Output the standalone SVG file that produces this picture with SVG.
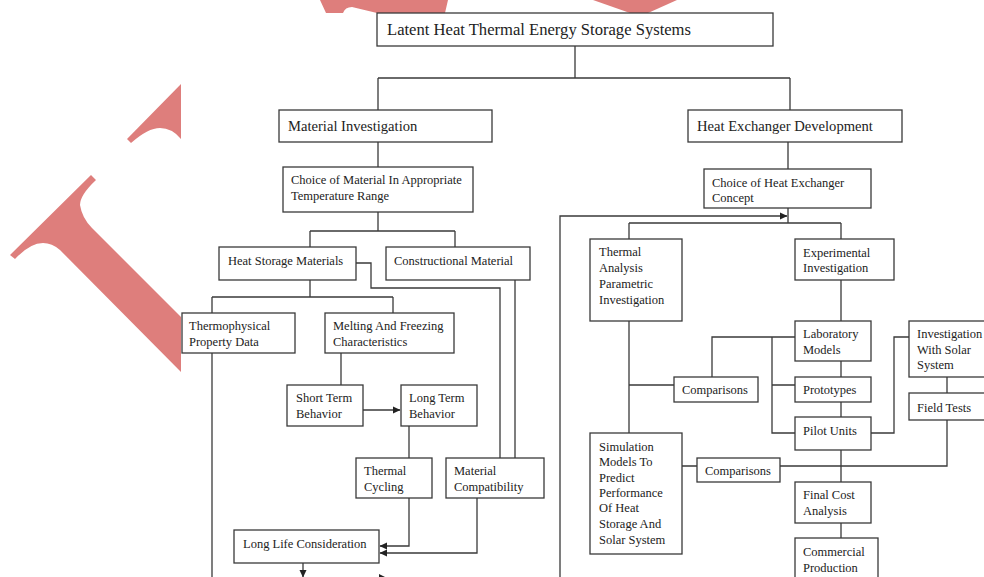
<svg xmlns="http://www.w3.org/2000/svg" width="984" height="577" viewBox="0 0 984 577">
<style>
.box{fill:#fff;stroke:#3a3a3a;stroke-width:1.3}
.t{font-family:"Liberation Serif","Times New Roman",serif;font-size:12.5px;fill:#222}
.t2{font-family:"Liberation Serif","Times New Roman",serif;font-size:14.6px;fill:#222}
.t3{font-family:"Liberation Serif","Times New Roman",serif;font-size:16.6px;fill:#222}
.c{fill:none;stroke:#3a3a3a;stroke-width:1.3}
.wm{fill:#de7e7c}
</style>
<defs>
<marker id="ah" markerWidth="8" markerHeight="8" refX="7" refY="4" orient="auto" markerUnits="userSpaceOnUse">
<path d="M0,0.5 L7.5,4 L0,7.5 Z" fill="#222"/>
</marker>
</defs>
<rect width="984" height="577" fill="#fff"/>
<g id="watermark">
<path class="wm" d="M320,0 L326,13 L343,13 Q345,7 352,7 L377,13 L445,13 L448,0 Z"/>
<path class="wm" d="M593,0 L677,0 L648,13 L630,13 Z"/>
<path class="wm" d="M127,139 L181,84 L181,139 Q172,128 160,128 Q148,128 131,143 Z"/>
<path class="wm" d="M10,255 L91,175 L96,180 Q80,195 80,205 Q82,218 92,228 L181,317 L181,372 L60,250 Q52,243 43,243 Q30,243 15,259 Z"/>
</g>
<g id="connectors">
<path class="c" d="M575,46 V78 M378,78 H790 M378,78 V110 M790,78 V110"/>
<path class="c" d="M378,142 V167 M378,212 V231 M310,231 H455 M310,231 V247 M455,231 V247"/>
<path class="c" d="M356,263 H371 V288 H500 V458 M515,280 V458"/>
<path class="c" d="M310,280 V297 M212,297 H393 M212,297 V313 M393,297 V313"/>
<path class="c" d="M212,353 V577"/>
<path class="c" d="M341,353 V385"/>
<path class="c" d="M363,410 H400" marker-end="url(#ah)"/>
<path class="c" d="M409,426 V458"/>
<path class="c" d="M409,498 V546 H380" marker-end="url(#ah)"/>
<path class="c" d="M477,498 V553 H380" marker-end="url(#ah)"/>
<path class="c" d="M303,563 V577" marker-end="url(#ah)"/>
<path d="M379,574 L386,577.5 L379,581 Z" fill="#222"/>
<path class="c" d="M560,577 V216 H787" marker-end="url(#ah)"/>
<path class="c" d="M788,142 V169 M788,208 V223 M629,223 H841 M629,223 V239 M841,223 V239"/>
<path class="c" d="M841,280 V321 M841,361 V377 M841,402 V417 M841,450 V482 M841,523 V538"/>
<path class="c" d="M795,337 H712 V377 M772,337 V433 H795 M772,385 H795"/>
<path class="c" d="M629,321 V433 M629,385 H674"/>
<path class="c" d="M871,433 H894 V337 H909"/>
<path class="c" d="M947,377 V393 M947,420 V466 H780 M682,466 H697"/>
</g>
<g id="n-root"><rect class="box" x="377" y="13" width="396" height="33"/><text class="t3" x="387" y="35">Latent Heat Thermal Energy Storage Systems</text></g>
<g id="n-material"><rect class="box" x="279" y="110" width="213" height="32"/><text class="t2" x="288" y="131">Material Investigation</text></g>
<g id="n-hx"><rect class="box" x="688" y="110" width="214" height="32"/><text class="t2" x="697" y="131">Heat Exchanger Development</text></g>
<g id="n-choice-mat"><rect class="box" x="283" y="167" width="190" height="45"/><text class="t" x="291" y="183.5">Choice of Material In Appropriate</text><text class="t" x="291" y="199.5">Temperature Range</text></g>
<g id="n-heat-storage"><rect class="box" x="219" y="247" width="137" height="33"/><text class="t" x="228" y="264.5">Heat Storage Materials</text></g>
<g id="n-constructional"><rect class="box" x="386" y="247" width="144" height="33"/><text class="t" x="394" y="264.5">Constructional Material</text></g>
<g id="n-thermophysical"><rect class="box" x="182" y="313" width="113" height="40"/><text class="t" x="189" y="329.5">Thermophysical</text><text class="t" x="189" y="345.5">Property Data</text></g>
<g id="n-melting"><rect class="box" x="325" y="313" width="129" height="40"/><text class="t" x="333" y="329.5">Melting And Freezing</text><text class="t" x="333" y="345.5">Characteristics</text></g>
<g id="n-short"><rect class="box" x="287" y="385" width="76" height="41"/><text class="t" x="296" y="401.5">Short Term</text><text class="t" x="296" y="417.5">Behavior</text></g>
<g id="n-long"><rect class="box" x="401" y="385" width="76" height="41"/><text class="t" x="409" y="401.5">Long Term</text><text class="t" x="409" y="417.5">Behavior</text></g>
<g id="n-cycling"><rect class="box" x="356" y="458" width="76" height="40"/><text class="t" x="364" y="474.5">Thermal</text><text class="t" x="364" y="490.5">Cycling</text></g>
<g id="n-compat"><rect class="box" x="446" y="458" width="98" height="40"/><text class="t" x="454" y="474.5">Material</text><text class="t" x="454" y="490.5">Compatibility</text></g>
<g id="n-longlife"><rect class="box" x="234" y="530" width="145" height="33"/><text class="t" x="243" y="547.5">Long Life Consideration</text></g>
<g id="n-choice-hx"><rect class="box" x="704" y="169" width="167" height="39"/><text class="t" x="712" y="186.5">Choice of Heat Exchanger</text><text class="t" x="712" y="201.5">Concept</text></g>
<g id="n-thermal-analysis"><rect class="box" x="590" y="239" width="92" height="82"/><text class="t" x="599" y="255.5">Thermal</text><text class="t" x="599" y="271.5">Analysis</text><text class="t" x="599" y="287.5">Parametric</text><text class="t" x="599" y="303.5">Investigation</text></g>
<g id="n-experimental"><rect class="box" x="795" y="239" width="99" height="41"/><text class="t" x="803" y="256.5">Experimental</text><text class="t" x="803" y="271.5">Investigation</text></g>
<g id="n-lab"><rect class="box" x="795" y="321" width="76" height="40"/><text class="t" x="803" y="337.5">Laboratory</text><text class="t" x="803" y="353.5">Models</text></g>
<g id="n-comp1"><rect class="box" x="674" y="377" width="84" height="25"/><text class="t" x="682" y="393.5">Comparisons</text></g>
<g id="n-proto"><rect class="box" x="795" y="377" width="76" height="25"/><text class="t" x="803" y="393.5">Prototypes</text></g>
<g id="n-pilot"><rect class="box" x="795" y="417" width="76" height="33"/><text class="t" x="803" y="434.5">Pilot Units</text></g>
<g id="n-solar"><rect class="box" x="909" y="321" width="85" height="56"/><text class="t" x="917" y="337.5">Investigation</text><text class="t" x="917" y="353.5">With Solar</text><text class="t" x="917" y="368.5">System</text></g>
<g id="n-field"><rect class="box" x="909" y="393" width="85" height="27"/><text class="t" x="917" y="411.5">Field Tests</text></g>
<g id="n-comp2"><rect class="box" x="697" y="458" width="83" height="24"/><text class="t" x="705" y="474.5">Comparisons</text></g>
<g id="n-simulation"><rect class="box" x="590" y="433" width="92" height="121"/><text class="t" x="599" y="450.5">Simulation</text><text class="t" x="599" y="465.5">Models To</text><text class="t" x="599" y="481.5">Predict</text><text class="t" x="599" y="496.5">Performance</text><text class="t" x="599" y="511.5">Of Heat</text><text class="t" x="599" y="527.5">Storage And</text><text class="t" x="599" y="543.5">Solar System</text></g>
<g id="n-cost"><rect class="box" x="795" y="482" width="76" height="41"/><text class="t" x="803" y="498.5">Final Cost</text><text class="t" x="803" y="514.5">Analysis</text></g>
<g id="n-commercial"><rect class="box" x="795" y="538" width="83" height="45"/><text class="t" x="803" y="555.5">Commercial</text><text class="t" x="803" y="571.5">Production</text></g>
</svg>
